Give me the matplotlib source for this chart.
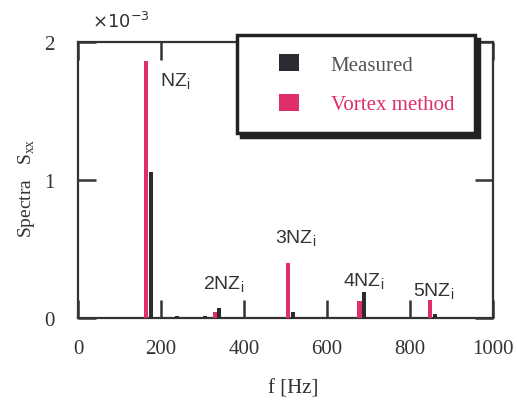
import matplotlib
matplotlib.use("Agg")
import matplotlib.pyplot as plt
from matplotlib.patches import Patch, Rectangle
from matplotlib.legend_handler import HandlerPatch

# Data (f in Hz, spectra in units of 1e-3)
vortex_f = [164, 330, 506, 678, 848]
vortex_s = [1.86, 0.04, 0.40, 0.12, 0.13]
meas_f = [175, 238, 306, 340, 518, 689, 859]
meas_s = [1.06, 0.012, 0.012, 0.07, 0.04, 0.19, 0.03]

labels = ["NZ$_{\\mathregular{i}}$", "2NZ$_{\\mathregular{i}}$", "3NZ$_{\\mathregular{i}}$",
          "4NZ$_{\\mathregular{i}}$", "5NZ$_{\\mathregular{i}}$"]
label_xy = [(198, 1.645), (301, 0.174), (475, 0.51), (639, 0.196), (807, 0.123)]
xticks = [0, 200, 400, 600, 800, 1000]
yticks = [0, 1, 2]
legend_labels = ["Measured", "Vortex method"]

pink = "#de2f68"
dark = "#2a2c31"
axc = "#333333"

serif = ["Liberation Serif", "DejaVu Serif"]
narrow = ["Liberation Sans Narrow", "Liberation Sans", "DejaVu Sans"]


class RightSquare(HandlerPatch):
    def create_artists(self, legend, orig_handle, xdescent, ydescent, width, height,
                       fontsize, trans):
        side = height
        p = Rectangle((-xdescent + width - side * 1.15, -ydescent), side * 1.15, side,
                      facecolor=orig_handle.get_facecolor(), edgecolor="none",
                      transform=trans)
        return [p]


fig = plt.figure(figsize=(5.17, 4.02), dpi=100)
ax = fig.add_axes([0.151, 0.2065, 0.803, 0.6865])

ax.bar(vortex_f, vortex_s, width=10, color=pink, align="center", zorder=3)
ax.bar(meas_f, meas_s, width=10, color=dark, align="center", zorder=3)

ax.set_xlim(0, 1000)
ax.set_ylim(0, 2)
ax.set_xticks(xticks)
ax.set_yticks(yticks)
ax.set_xticklabels([str(t) for t in xticks], family=serif, fontsize=15, color="#333333")
ax.set_yticklabels([str(t) for t in yticks], family=serif, fontsize=15, color="#333333")
ax.tick_params(axis="both", direction="in", length=13, width=1.8, color=axc,
               top=True, right=True)
ax.tick_params(axis="x", pad=15)
ax.tick_params(axis="y", pad=17)
for s in ax.spines.values():
    s.set_linewidth(1.6)
    s.set_color(axc)

ax.set_xlabel("f [Hz]", family=serif, fontsize=15, color="#333333")
ax.xaxis.set_label_coords(0.518, -0.22)
ax.set_ylabel("Spectra   S$_{\\mathregular{xx}}$", family=serif, fontsize=14,
              color="#333333")
ax.yaxis.set_label_coords(-0.10, 0.475)

fig.text(0.177, 0.945, "×10$^{\\mathregular{-3}}$", family=["DejaVu Sans"], fontsize=13,
         color="#333333", ha="left", va="center")

for lab, (x, y) in zip(labels, label_xy):
    ax.text(x, y, lab, family=narrow, fontsize=14, color="#333333", ha="left",
            va="bottom", zorder=4)

handles = [Patch(facecolor=dark), Patch(facecolor=pink)]
leg = fig.legend(handles, legend_labels, loc="upper left",
                 bbox_to_anchor=(0.458, 0.682, 0.461, 0.228),
                 mode="expand", frameon=True, fancybox=False,
                 shadow={"ox": 3, "oy": -3, "color": "#222222", "alpha": 1.0},
                 prop={"family": serif, "size": 15},
                 handler_map={Patch: RightSquare()},
                 handlelength=2.1, handleheight=0.9,
                 handletextpad=1.5, borderpad=0.9, labelspacing=0.9, borderaxespad=0)
leg.get_frame().set_linewidth(2.5)
leg.get_frame().set_edgecolor("#222222")
leg.get_texts()[0].set_color("#555555")
leg.get_texts()[1].set_color(pink)
leg.set_zorder(10)

fig.savefig("out.png", dpi=100)
